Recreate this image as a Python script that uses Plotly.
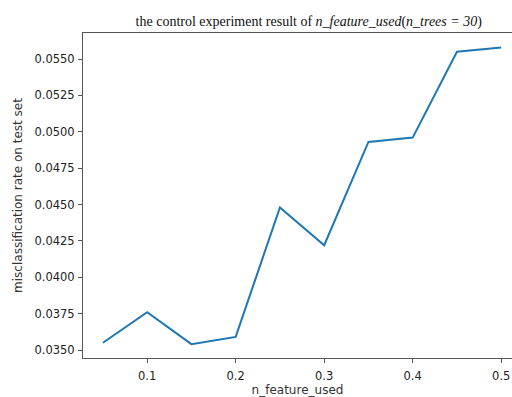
import plotly.graph_objects as go

n_feature_used = [0.05, 0.10, 0.15, 0.20, 0.25, 0.30, 0.35, 0.40, 0.45, 0.50]
misclassification = [0.0355, 0.0376, 0.0354, 0.0359, 0.0448, 0.0422, 0.0493, 0.0496, 0.0555, 0.0558]
y_ticks = [0.035, 0.0375, 0.04, 0.0425, 0.045, 0.0475, 0.05, 0.0525, 0.055]
x_ticks = [0.1, 0.2, 0.3, 0.4, 0.5]

fig = go.Figure(go.Scatter(
    x=n_feature_used, y=misclassification, mode="lines",
    line=dict(color="#1f77b4", width=2), showlegend=False,
))

axis_common = dict(
    showgrid=False, zeroline=False, showline=True, linecolor="#555555", linewidth=1,
    ticks="outside", ticklen=4, tickcolor="#555555", automargin=False,
    tickfont=dict(family="DejaVu Sans", size=11.5, color="#222222"),
)

fig.update_layout(
    width=512, height=397,
    margin=dict(l=83, r=0, t=33, b=39),
    paper_bgcolor="white", plot_bgcolor="white",
    title=dict(
        text="the control experiment result of <i>n_feature_used</i>(<i>n_trees = 30</i>)",
        font=dict(family="Liberation Serif", size=14, color="#111111"),
        x=0.603, xanchor="center", y=0.947, yanchor="middle",
    ),
    xaxis=dict(
        **axis_common, range=[0.0275, 0.5122], tickvals=x_ticks, tickformat=".1f",
        mirror=True, ticklabelstandoff=3,
        title=dict(text="n_feature_used", standoff=9,
                   font=dict(family="DejaVu Sans", size=12, color="#333333")),
    ),
    yaxis=dict(
        **axis_common, range=[0.03445, 0.05679], tickvals=y_ticks, tickformat=".4f",
        ticklabelstandoff=1,
        title=dict(text="misclassification rate on test set", standoff=9,
                   font=dict(family="DejaVu Sans", size=12, color="#333333")),
    ),
)

fig.write_html(
    "out.html",
    config={"displayModeBar": False},
    post_script="document.body.style.margin='0px';",
)
